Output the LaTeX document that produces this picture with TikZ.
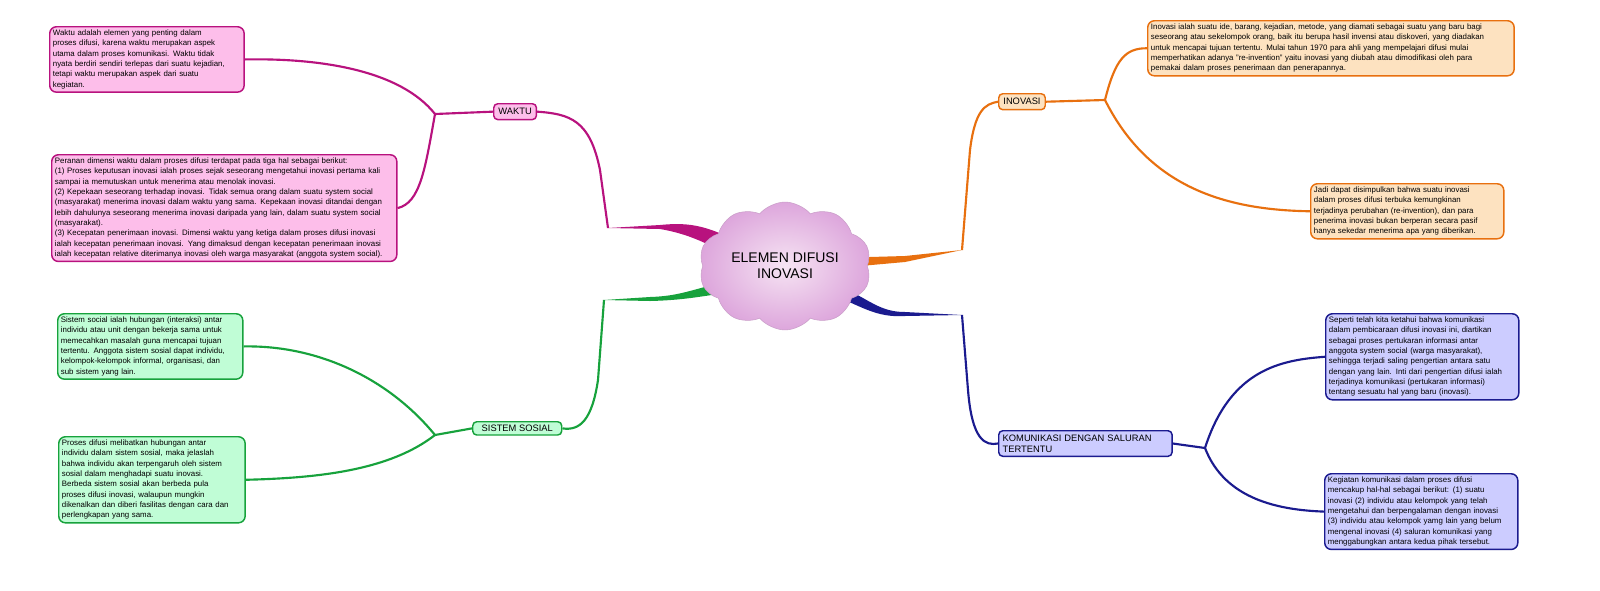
\documentclass[tikz,border=0pt]{standalone}
\usepackage{fontspec}
\setmainfont{Liberation Sans}
\usetikzlibrary{shapes.symbols}
\definecolor{pkF}{HTML}{FDBEEA}\definecolor{pkD}{HTML}{B8127E}
\definecolor{orF}{HTML}{FDE2C0}\definecolor{orD}{HTML}{E8700F}
\definecolor{blF}{HTML}{CCCCFF}\definecolor{blD}{HTML}{1B1B8F}
\definecolor{grF}{HTML}{C0FDD6}\definecolor{grD}{HTML}{17A23C}
\definecolor{clIn}{HTML}{F6E4F3}\definecolor{clOut}{HTML}{DDA6DC}
\begin{document}
\begin{tikzpicture}[x=0.75pt,y=-0.75pt,
 txt/.style={draw,rounded corners=5pt,line width=1.1pt,anchor=north west,align=left,inner sep=2.4pt,font=\fontsize{5.9}{7.75}\selectfont},
 lbl/.style={draw,rounded corners=3pt,line width=1.1pt,anchor=north west,inner sep=3.5pt,font=\fontsize{7}{8.2}\selectfont},
 br/.style={line width=1.6pt},
 cl/.style={cloud,cloud puffs=10,cloud puff arc=100,aspect=1.5,minimum width=124*0.75pt,minimum height=88*0.75pt,draw=clOut!80!gray,line width=0.4pt,inner color=clIn,outer color=clOut,align=center,font=\fontsize{10.5}{12}\selectfont}]
\fill[white] (0,0) rectangle (1600,590);
% pink
\node[lbl,fill=pkF,draw=pkD] (w) at (493,103) {WAKTU};
\node[txt,fill=pkF,draw=pkD,text width=141pt] (w1) at (49,26) {Waktu adalah elemen yang penting dalam\\proses difusi, karena waktu merupakan aspek\\utama dalam proses komunikasi. Waktu tidak\\nyata berdiri sendiri terlepas dari suatu kejadian,\\tetapi waktu merupakan aspek dari suatu\\kegiatan.};
\node[txt,fill=pkF,draw=pkD,text width=254pt] (w2) at (51,154) {Peranan dimensi waktu dalam proses difusi terdapat pada tiga hal sebagai berikut:\\(1) Proses keputusan inovasi ialah proses sejak seseorang mengetahui inovasi pertama kali\\sampai ia memutuskan untuk menerima atau menolak inovasi.\\(2) Kepekaan seseorang terhadap inovasi. Tidak semua orang dalam suatu system social\\(masyarakat) menerima inovasi dalam waktu yang sama. Kepekaan inovasi ditandai dengan\\lebih dahulunya seseorang menerima inovasi daripada yang lain, dalam suatu system social\\(masyarakat).\\(3) Kecepatan penerimaan inovasi. Dimensi waktu yang ketiga dalam proses difusi inovasi\\ialah kecepatan penerimaan inovasi. Yang dimaksud dengan kecepatan penerimaan inovasi\\ialah kecepatan relative diterimanya inovasi oleh warga masyarakat (anggota system social).};
% orange
\node[lbl,fill=orF,draw=orD] (i) at (998,93) {INOVASI};
\node[txt,fill=orF,draw=orD,text width=270pt] (i1) at (1147,20) {Inovasi ialah suatu ide, barang, kejadian, metode, yang diamati sebagai suatu yang baru bagi\\seseorang atau sekelompok orang, baik itu berupa hasil invensi atau diskoveri, yang diadakan\\untuk mencapai tujuan tertentu. Mulai tahun 1970 para ahli yang mempelajari difusi mulai\\memperhatikan adanya "re-invention" yaitu inovasi yang diubah atau dimodifikasi oleh para\\pemakai dalam proses penerimaan dan penerapannya.};
\node[txt,fill=orF,draw=orD,text width=140pt] (i2) at (1310,183) {Jadi dapat disimpulkan bahwa suatu inovasi\\dalam proses difusi terbuka kemungkinan\\terjadinya perubahan (re-invention), dan para\\penerima inovasi bukan berperan secara pasif\\hanya sekedar menerima apa yang diberikan.};
% blue
\node[lbl,fill=blF,draw=blD,text width=124pt,align=left,inner sep=3pt] (k) at (998,430) {KOMUNIKASI DENGAN SALURAN\\TERTENTU};
\node[txt,fill=blF,draw=blD,text width=140pt] (k1) at (1325,313) {Seperti telah kita ketahui bahwa komunikasi\\dalam pembicaraan difusi inovasi ini, diartikan\\sebagai proses pertukaran informasi antar\\anggota system social (warga masyarakat),\\sehingga terjadi saling pengertian antara satu\\dengan yang lain. Inti dari pengertian difusi ialah\\terjadinya komunikasi (pertukaran informasi)\\tentang sesuatu hal yang baru (inovasi).};
\node[txt,fill=blF,draw=blD,text width=140pt] (k2) at (1324,473) {Kegiatan komunikasi dalam proses difusi\\mencakup hal-hal sebagai berikut: (1) suatu\\inovasi (2) individu atau kelompok yang telah\\mengetahui dan berpengalaman dengan inovasi\\(3) individu atau kelompok yamg lain yang belum\\mengenal inovasi (4) saluran komunikasi yang\\menggabungkan antara kedua pihak tersebut.};
% green
\node[lbl,fill=grF,draw=grD,minimum width=89*0.75pt,align=center,inner sep=2.5pt] (s) at (472,421) {SISTEM SOSIAL};
\node[txt,fill=grF,draw=grD,text width=134pt] (s1) at (57,313) {Sistem social ialah hubungan (interaksi) antar\\individu atau unit dengan bekerja sama untuk\\memecahkan masalah guna mencapai tujuan\\tertentu. Anggota sistem sosial dapat individu,\\kelompok-kelompok informal, organisasi, dan\\sub sistem yang lain.};
\node[txt,fill=grF,draw=grD,text width=135pt] (s2) at (58,436) {Proses difusi melibatkan hubungan antar\\individu dalam sistem sosial, maka jelaslah\\bahwa individu akan terpengaruh oleh sistem\\sosial dalam menghadapi suatu inovasi.\\Berbeda sistem sosial akan berbeda pula\\proses difusi inovasi, walaupun mungkin\\dikenalkan dan diberi fasilitas dengan cara dan\\perlengkapan yang sama.};
% junctions
\coordinate (wj) at (608,228); \coordinate (wf) at (435,114);
\coordinate (ij) at (962,250); \coordinate (if) at (1105,100);
\coordinate (kj) at (962,315); \coordinate (kf) at (1205,448);
\coordinate (sj) at (604,300); \coordinate (sf) at (435,435);
% tapered main branches
\fill[pkD] (752,250) .. controls (710,225) and (690,222) .. (660,225) -- (wj) -- (660,229) .. controls (695,235) and (715,248) .. (745,264) -- cycle;
\fill[orD] (835,258) -- (905,256) -- (ij) -- (905,262) -- (838,268) -- cycle;
\fill[blD] (840,286) .. controls (870,300) and (880,312) .. (905,312) -- (kj) -- (905,316) .. controls (875,318) and (860,305) .. (834,296) -- cycle;
\fill[grD] (732,280) .. controls (690,290) and (680,296) .. (650,297) -- (sj) -- (650,301) .. controls (690,300) and (705,295) .. (736,292) -- cycle;
\node[cl] (c) at (785,266) {ELEMEN DIFUSI\\INOVASI};
\draw[br,pkD] (wj) -- (600,170) .. controls (590,120) and (570,114) .. (w.east);
\draw[br,pkD] (w.west) -- (wf);
\draw[br,pkD] (wf) .. controls (400,70) and (320,58) .. (w1.east);
\draw[br,pkD] (wf) .. controls (425,170) and (420,203) .. (w2.east);
\draw[br,orD] (ij) -- (970,150) .. controls (975,110) and (985,104) .. (i.west);
\draw[br,orD] (i.east) -- (if);
\draw[br,orD] (if) .. controls (1115,60) and (1125,48) .. (i1.west);
\draw[br,orD] (if) .. controls (1150,190) and (1230,210) .. (i2.west);
\draw[br,blD] (kj) -- (968,390) .. controls (972,440) and (985,446) .. (k.west);
\draw[br,blD] (k.east) -- (kf);
\draw[br,blD] (kf) .. controls (1230,370) and (1280,360) .. (k1.west);
\draw[br,blD] (kf) .. controls (1225,500) and (1280,510) .. (k2.west);
\draw[br,grD] (sj) -- (598,380) .. controls (592,420) and (580,431) .. (s.east);
\draw[br,grD] (s.west) -- (sf);
\draw[br,grD] (sf) .. controls (390,380) and (320,345) .. (s1.east);
\draw[br,grD] (sf) .. controls (390,470) and (320,478) .. (s2.east);
\pgfresetboundingbox
\path (0,0) rectangle (1600,590);
\end{tikzpicture}
\end{document}
